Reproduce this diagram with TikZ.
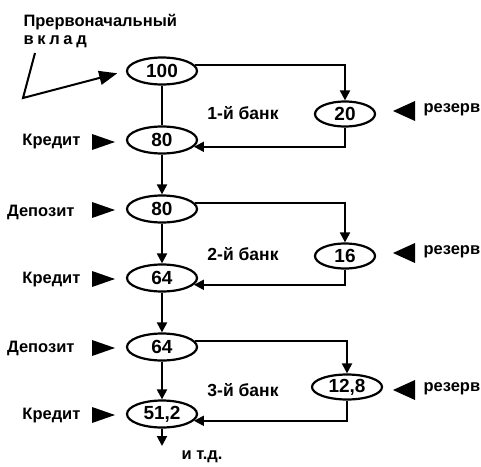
\documentclass[tikz,border=0pt]{standalone}
\usepackage{fontspec}
\setmainfont{Liberation Sans}
\usetikzlibrary{arrows.meta,shapes.geometric}

\tikzset{
  sum/.style={draw,ellipse,line width=2.2pt,minimum width=70pt,minimum height=27pt,
    inner sep=0pt,font=\bfseries\fontsize{19}{19}\selectfont},
  res/.style={sum,minimum width=60pt,minimum height=25pt},
  flow/.style={line width=2pt,-{Triangle[length=10pt,width=10pt]}},
  link/.style={line width=2pt},
  pointer/.pic={\fill (-11.5,-8) -- (11.5,0) -- (-11.5,8) -- cycle;},
  backpointer/.pic={\fill (11,-10) -- (-11,0) -- (11,10) -- cycle;},
  lbl/.style={font=\bfseries\fontsize{16.5}{16.5}\selectfont}
}

\begin{document}
\begin{tikzpicture}[x=1pt,y=-1pt]
\useasboundingbox (0,0) rectangle (481,466);
% title of the first deposit
\node[lbl,anchor=west] (title) at (20,22) {Прервоначальный};
\node[lbl,anchor=west] (title2) at (20,42) {\addfontfeature{LetterSpace=22}вклад};
\coordinate (src) at (35,53);
\coordinate (bend) at (23,98);
% left column
\node[sum] (n100) at (162,71) {100};
\node[sum] (k1) at (162,140) {80};
\node[sum] (d2) at (162,209) {80};
\node[sum] (k2) at (162,278) {64};
\node[sum] (d3) at (162,347) {64};
\node[sum] (k3) at (162,414) {51,2};
\coordinate (etc) at (162,446);
% reserves
\node[res] (r1) at (345,114) {20};
\node[res] (r2) at (345,256) {16};
\node[res,minimum width=70pt] (r3) at (347,387) {12,8};
% left labels
\node[lbl,anchor=east] (cr1) at (84,142) {Кредит};
\node[lbl,anchor=east] (dp2) at (78,212) {Депозит};
\node[lbl,anchor=east] (cr2) at (84,280) {Кредит};
\node[lbl,anchor=east] (dp3) at (78,348) {Депозит};
\node[lbl,anchor=east] (cr3) at (84,416) {Кредит};
\pic (pk1) at (103.5,142) {pointer};
\pic (pd2) at (103.5,210) {pointer};
\pic (pk2) at (103.5,279) {pointer};
\pic (pd3) at (103.5,348) {pointer};
\pic (pk3) at (103.5,415) {pointer};
% banks
\node[lbl,font=\bfseries\fontsize{17.5}{17.5}\selectfont] (b1) at (243,113) {1-й банк};
\node[lbl,font=\bfseries\fontsize{17.5}{17.5}\selectfont] (b2) at (243,254) {2-й банк};
\node[lbl,font=\bfseries\fontsize{17.5}{17.5}\selectfont] (b3) at (243,390) {3-й банк};
% reserve labels
\pic (pr1) at (404,111) {backpointer};
\pic (pr2) at (404,253) {backpointer};
\pic (pr3) at (404,390) {backpointer};
\node[lbl,anchor=west] (t1) at (420,110) {резерв};
\node[lbl,anchor=west] (t2) at (420,252) {резерв};
\node[lbl,anchor=west] (t3) at (420,389) {резерв};
\node[lbl,anchor=west] (more) at (178,457) {и т.д.};
% connectors
\draw[flow,-{Triangle[length=18pt,width=14pt]},shorten >=9pt] (src) -- (bend) -- (n100.west);
\draw[link] (n100) -- (k1);
\draw[flow] (k1) -- (d2);
\draw[flow] (d2) -- (k2);
\draw[flow] (k2) -- (d3);
\draw[flow] (d3) -- (k3);
\draw[flow] (k3) -- (etc);
\draw[flow] (n100.10) -| (r1.north);
\draw[flow] (r1.south) |- (k1.-12);
\draw[flow] (d2.10) -| (r2.north);
\draw[flow] (r2.south) |- (k2.-12);
\draw[flow] (d3.10) -| (r3.north);
\draw[flow] (r3.south) |- (k3.-12);
\end{tikzpicture}
\end{document}
